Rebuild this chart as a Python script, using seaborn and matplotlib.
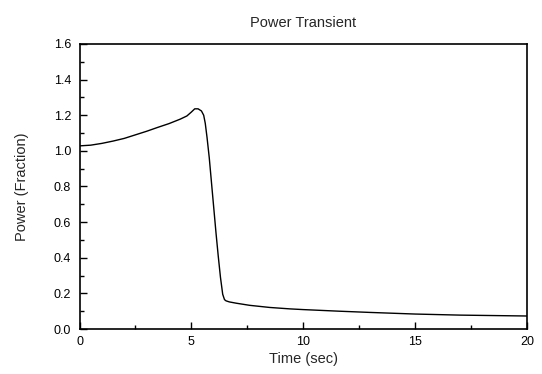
import matplotlib
matplotlib.use("Agg")
import matplotlib.pyplot as plt
from matplotlib.ticker import MultipleLocator, FormatStrFormatter
import seaborn as sns
import pandas as pd

time_sec = [0.0, 0.5, 1.0, 1.5, 2.0, 2.5, 3.0, 3.5, 4.0, 4.5, 4.8, 5.0, 5.15, 5.3,
            5.45, 5.55, 5.62, 5.7, 5.8, 5.9, 6.0, 6.1, 6.2, 6.3, 6.4, 6.48, 6.55,
            6.7, 7.0, 7.6, 8.5, 9.4, 10.0, 11.6, 13.0, 15.0, 17.0, 20.0]
power_frac = [1.028, 1.032, 1.042, 1.055, 1.070, 1.090, 1.110, 1.132, 1.153, 1.178, 1.196,
              1.218, 1.236, 1.236, 1.224, 1.200, 1.155, 1.075, 0.960, 0.820, 0.680,
              0.540, 0.410, 0.290, 0.195, 0.165, 0.158, 0.152, 0.145, 0.133, 0.121,
              0.113, 0.109, 0.100, 0.093, 0.084, 0.078, 0.073]

df = pd.DataFrame({"Time (sec)": time_sec, "Power (Fraction)": power_frac})

sns.set_style("white")
plt.rcParams["font.family"] = ["Liberation Sans", "DejaVu Sans"]

fig = plt.figure(figsize=(5.42, 3.74), dpi=100)
ax = fig.add_axes([0.1467, 0.1203, 0.8256, 0.7621])

sns.lineplot(data=df, x="Time (sec)", y="Power (Fraction)", ax=ax,
             color="black", linewidth=1.0, sort=False)

ax.set_xlim(0, 20)
ax.set_ylim(0, 1.6)
ax.xaxis.set_major_locator(MultipleLocator(5))
ax.xaxis.set_minor_locator(MultipleLocator(2.5))
ax.yaxis.set_major_locator(MultipleLocator(0.2))
ax.yaxis.set_minor_locator(MultipleLocator(0.1))
ax.yaxis.set_major_formatter(FormatStrFormatter("%.1f"))

ax.tick_params(which="both", direction="in", bottom=True, left=True,
               top=False, right=False, colors="black", labelsize=9, width=1)
ax.tick_params(which="major", length=5)
ax.tick_params(which="minor", length=3)
ax.tick_params(axis="y", which="major", pad=6)
ax.tick_params(axis="x", which="major", pad=5)

for s in ax.spines.values():
    s.set_visible(True)
    s.set_color("black")
    s.set_linewidth(1.2)

ax.set_title("Power Transient", fontsize=10.5, pad=12)
ax.set_xlabel("Time (sec)", fontsize=10.5, labelpad=3)
ax.set_ylabel("Power (Fraction)", fontsize=10.5, labelpad=18)

fig.savefig("out.png", dpi=100)
